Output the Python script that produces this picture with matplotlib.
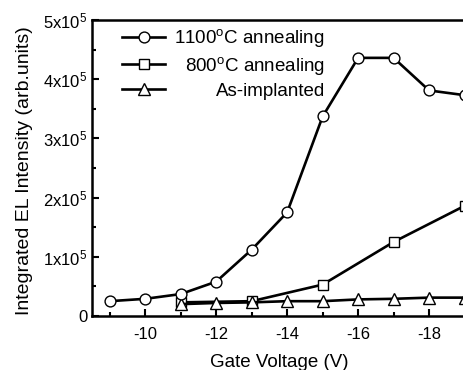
import matplotlib
matplotlib.use("Agg")
import matplotlib.pyplot as plt
from matplotlib.ticker import MultipleLocator, FuncFormatter

plt.rcParams['font.family'] = ['Liberation Sans', 'DejaVu Sans']
plt.rcParams['mathtext.fontset'] = 'custom'
plt.rcParams['mathtext.rm'] = 'Liberation Sans'
plt.rcParams['mathtext.it'] = 'Liberation Sans'
plt.rcParams['axes.unicode_minus'] = False

# gate voltage (V) and integrated EL intensity (arb. units)
v_1100 = [-9, -10, -11, -12, -13, -14, -15, -16, -17, -18, -19]
el_1100 = [2.5e4, 2.9e4, 3.7e4, 5.8e4, 1.12e5, 1.75e5, 3.37e5, 4.36e5, 4.36e5, 3.81e5, 3.73e5]

v_800 = [-11, -13, -15, -17, -19]
el_800 = [2.3e4, 2.5e4, 5.3e4, 1.25e5, 1.86e5]

v_asimp = [-11, -12, -13, -14, -15, -16, -17, -18, -19]
el_asimp = [2.0e4, 2.2e4, 2.3e4, 2.5e4, 2.5e4, 2.8e4, 2.9e4, 3.1e4, 3.1e4]

labels = ["1100$^{\\mathrm{o}}$C annealing", "800$^{\\mathrm{o}}$C annealing", "As-implanted"]


def ytick_fmt(val, pos):
    if val == 0:
        return "0"
    return "%dx10$^{5}$" % round(val / 1e5)


def main():
    fig = plt.figure(figsize=(4.63, 3.70), dpi=100)
    ax = fig.add_axes([0.1987, 0.146, 0.843, 0.800])

    style = dict(color='black', lw=1.9, markersize=7.8, markerfacecolor='white',
                 markeredgecolor='black', markeredgewidth=1.0)
    h1, = ax.plot(v_1100, el_1100, marker='o', label=labels[0], zorder=4, **style)
    h2, = ax.plot(v_800, el_800, marker='s', label=labels[1], zorder=3, **style)
    h3, = ax.plot(v_asimp, el_asimp, marker='^', label=labels[2], zorder=3,
                  **{**style, 'markersize': 8.8})

    ax.set_xlim(-8.5, -19.5)
    ax.set_ylim(0, 5e5)
    ax.xaxis.set_major_locator(MultipleLocator(2))
    ax.xaxis.set_minor_locator(MultipleLocator(1))
    ax.yaxis.set_major_locator(MultipleLocator(1e5))
    ax.yaxis.set_minor_locator(MultipleLocator(0.5e5))
    ax.yaxis.set_major_formatter(FuncFormatter(ytick_fmt))
    ax.tick_params(which='both', direction='in', labelsize=12, width=1.5)
    ax.tick_params(which='major', length=5)
    ax.tick_params(which='minor', length=3)
    ax.tick_params(axis='x', pad=8)
    for s in ax.spines.values():
        s.set_linewidth(1.8)

    ax.set_xlabel("Gate Voltage (V)", fontsize=13.5)
    ax.xaxis.set_label_coords(0.481, -0.13)
    ax.set_ylabel("Integrated EL Intensity (arb.units)", fontsize=14)
    ax.yaxis.set_label_coords(-0.152, 0.49)

    leg = ax.legend(handles=[h1, h2, h3], loc='upper left', frameon=False,
                    fontsize=13.5, handlelength=2.3, handletextpad=0.4,
                    labelspacing=0.3, borderaxespad=0.0, borderpad=0.0,
                    bbox_to_anchor=(0.077, 0.975))
    # right-align legend labels: replace them with right-aligned figure texts
    fig.canvas.draw()
    renderer = fig.canvas.get_renderer()
    W, H = fig.bbox.width, fig.bbox.height
    for t in leg.get_texts():
        bb = t.get_window_extent(renderer)
        yc = (bb.y0 + bb.y1) / 2
        fig.text(325 / W, yc / H, t.get_text(), ha='right', va='center',
                 fontsize=13.5)
        t.set_visible(False)

    fig.savefig("out.png", dpi=100)


if __name__ == "__main__":
    main()
